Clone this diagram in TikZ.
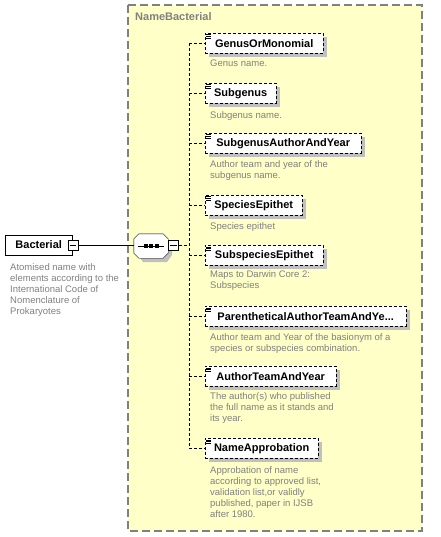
\documentclass[tikz,border=0pt]{standalone}
\usepackage{fontspec}
\setmainfont{Liberation Sans}
\usetikzlibrary{shadows}
\definecolor{yel}{HTML}{FFFFC8}
\definecolor{txtgray}{HTML}{808080}
\definecolor{shd}{HTML}{C0C0C0}
\begin{document}
\begin{tikzpicture}[x=1pt,y=-1pt,
  elem/.style={draw, dash pattern=on 3pt off 2pt, fill=white, anchor=north west,
    minimum height=20pt, inner xsep=4pt, inner ysep=0pt,
    font=\bfseries\fontsize{11}{12}\selectfont,
    general shadow={fill=shd, shadow xshift=4pt, shadow yshift=-4pt}},
  rootbox/.style={draw, fill=white, anchor=north west, minimum height=20pt,
    inner xsep=4pt, inner ysep=0pt, font=\bfseries\fontsize{11}{12}\selectfont},
  desc/.style={anchor=north west, inner sep=0pt, align=left, text=txtgray,
    font=\fontsize{9.5}{11}\selectfont},
  conn/.style={dash pattern=on 3pt off 2pt},
  minusbox/.style={draw, fill=white, minimum size=10pt, inner sep=0pt},
  seqanchor/.style={minimum width=34pt, minimum height=24pt, inner sep=0pt},
  icon/.style={line width=0.6pt}
]
\useasboundingbox (0,0) rectangle (440,537);
% group box
\draw[fill=yel, draw=txtgray, line width=1.5pt, dash pattern=on 8pt off 4pt] (128,5) rectangle (422,531);
\node[anchor=west, inner sep=0pt, text=txtgray, font=\bfseries\fontsize{11}{12}\selectfont] (grp) at (135,17) {NameBacterial};

% root
\node[rootbox, minimum width=67pt] (root) at (5,234.5) {Bacterial};
\node[minusbox] (rmin) at (73,245) {};
\draw ([xshift=2pt]rmin.west) -- ([xshift=-2pt]rmin.east);
\node[desc] (rdesc) at (10,263) {Atomised name with\\elements according to the\\International Code of\\Nomenclature of\\Prokaryotes};

% sequence compositor (octagon)
\node[seqanchor] (seq) at (151,246) {};
\fill[shd, shift={(4,4)}] (134,241) -- (139,234) -- (163,234) -- (168,241) -- (168,251) -- (163,258) -- (139,258) -- (134,251) -- cycle;
\draw[fill=white] ([yshift=-5]seq.north west) -- ([xshift=5]seq.north west) -- ([xshift=-5]seq.north east)
  -- ([yshift=-5]seq.north east) -- ([yshift=5]seq.south east) -- ([xshift=-5]seq.south east)
  -- ([xshift=5]seq.south west) -- ([yshift=5]seq.south west) -- cycle;
\draw ([xshift=4pt]seq.west) -- ([xshift=-4pt]seq.east);
\foreach \dx in {-5.5,0,5.5} \fill ([xshift=\dx pt]seq.center) +(-2,-1.6) rectangle +(2,1.6);
\node[minusbox] (smin) at (173.5,245) {};
\draw ([xshift=2pt]smin.west) -- ([xshift=-2pt]smin.east);
\draw (rmin.east) -- (seq.west |- rmin.east);

% spine
\coordinate (sptop) at (189,43);
\coordinate (spbot) at (189,448.5);
\coordinate (spmid) at (189,245);
\draw[conn] (sptop) -- (spbot);
\draw[conn] (smin.east) -- (spmid);

% elements
\newcommand\elemonly[4]{%
  \node[elem, minimum width=#3pt] (#1) at (205,#2) {#4};
  \draw[icon] (206,#2+1.8) -- (211,#2+1.8);
  \draw[icon] (206,#2+3.6) -- (211,#2+3.6);
  \draw[icon] (206,#2+5.4) -- (211,#2+5.4);
  \draw[conn] (#1.west -| sptop) -- (#1.west);
}
\elemonly{e1}{33}{118}{GenusOrMonomial}
\node[desc] (d1) at (210,60) {Genus name.};
\elemonly{e2}{83}{71}{Subgenus}
\node[desc] (d2) at (210,111) {Subgenus name.};
\elemonly{e3}{133}{156}{SubgenusAuthorAndYear}
\node[desc] (d3) at (210,160) {Author team and year of the\\subgenus name.};
\elemonly{e4}{195}{97}{SpeciesEpithet}
\node[desc] (d4) at (210,222) {Species epithet};
\elemonly{e5}{245}{118}{SubspeciesEpithet}
\node[desc] (d5) at (210,270) {Maps to Darwin Core 2:\\Subspecies};
\elemonly{e6}{306}{201}{ParentheticalAuthorTeamAndYe...}
\node[desc] (d6) at (210,333) {Author team and Year of the basionym of a\\species or subspecies combination.};
\elemonly{e7}{366}{131}{AuthorTeamAndYear}
\node[desc] (d7) at (210,392) {The author(s) who published\\the full name as it stands and\\its year.};
\elemonly{e8}{438}{113}{NameApprobation}
\node[desc] (d8) at (210,466) {Approbation of name\\according to approved list,\\validation list,or validly\\published, paper in IJSB\\after 1980.};
\end{tikzpicture}
\end{document}
